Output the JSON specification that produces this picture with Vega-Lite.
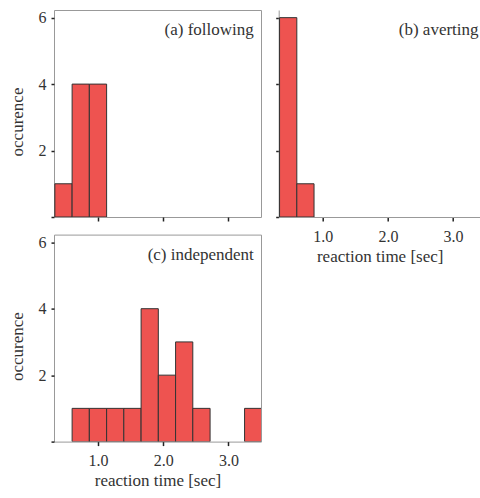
{
  "$schema": "https://vega.github.io/schema/vega-lite/v6.json",
  "padding": {"left": 7, "top": 9, "right": 0, "bottom": 5},
  "background": "white",
  "datasets": {
    "hist": [
      {"panel": "a", "bin_start": 0.338, "bin_end": 0.603, "count": 1},
      {"panel": "a", "bin_start": 0.603, "bin_end": 0.867, "count": 4},
      {"panel": "a", "bin_start": 0.867, "bin_end": 1.132, "count": 4},
      {"panel": "b", "bin_start": 0.338, "bin_end": 0.603, "count": 6},
      {"panel": "b", "bin_start": 0.603, "bin_end": 0.867, "count": 1},
      {"panel": "c", "bin_start": 0.603, "bin_end": 0.867, "count": 1},
      {"panel": "c", "bin_start": 0.867, "bin_end": 1.132, "count": 1},
      {"panel": "c", "bin_start": 1.132, "bin_end": 1.396, "count": 1},
      {"panel": "c", "bin_start": 1.396, "bin_end": 1.661, "count": 1},
      {"panel": "c", "bin_start": 1.661, "bin_end": 1.925, "count": 4},
      {"panel": "c", "bin_start": 1.925, "bin_end": 2.19, "count": 2},
      {"panel": "c", "bin_start": 2.19, "bin_end": 2.454, "count": 3},
      {"panel": "c", "bin_start": 2.454, "bin_end": 2.719, "count": 1},
      {"panel": "c", "bin_start": 3.248, "bin_end": 3.512, "count": 1}
    ],
    "labels": [
      {"panel": "a", "label": "(a) following"},
      {"panel": "b", "label": "(b) averting"},
      {"panel": "c", "label": "(c) independent"}
    ]
  },
  "columns": 2,
  "bounds": "flush",
  "spacing": {"row": 17.6, "column": 17.7},
  "concat": [
    {
      "width": 207,
      "height": 207,
      "layer": [
        {
          "data": {"name": "hist"},
          "transform": [{"filter": "datum.panel == 'a'"}],
          "mark": {"type": "rect", "fill": "#ee5350", "stroke": "#333333", "strokeWidth": 1, "clip": true},
          "encoding": {
            "x": {"field": "bin_start", "type": "quantitative",
              "scale": {"domain": [0.325, 3.5], "nice": false, "zero": false},
              "axis": {"values": [1, 2, 3], "labels": false, "title": null, "tickSize": 4, "domain": false}},
            "x2": {"field": "bin_end"},
            "y": {"field": "count", "type": "quantitative",
              "scale": {"domain": [0, 6.23], "nice": false},
              "axis": {"values": [0, 2, 4, 6], "labelExpr": "datum.value == 0 ? '' : datum.label", "title": "occurence", "tickSize": 3, "labelPadding": 5, "titlePadding": 12, "titleY": 111.5, "domain": false,
                "labelFont": "Liberation Serif", "titleFont": "Liberation Serif"}}
          }
        },
        {
          "data": {"name": "labels"},
          "transform": [{"filter": "datum.panel == 'a'"}],
          "mark": {"type": "text", "align": "right", "baseline": "alphabetic", "font": "Liberation Serif", "fontSize": 17, "color": "#333333"},
          "encoding": {"text": {"field": "label"}, "x": {"datum": 3.39}, "y": {"datum": 5.47}}
        }
      ]
    },
    {
      "width": 202,
      "height": 207,
      "view": {"stroke": null},
      "layer": [
        {
          "data": {"name": "hist"},
          "transform": [{"filter": "datum.panel == 'b'"}],
          "mark": {"type": "rect", "fill": "#ee5350", "stroke": "#333333", "strokeWidth": 1, "clip": true},
          "encoding": {
            "x": {"field": "bin_start", "type": "quantitative",
              "scale": {"domain": [0.325, 3.423], "nice": false, "zero": false},
              "axis": {"values": [1, 2, 3], "format": ".1f", "title": "reaction time [sec]", "tickSize": 4, "labelPadding": 7, "titlePadding": 4, "domain": true,
                "labelFont": "Liberation Serif", "titleFont": "Liberation Serif"}},
            "x2": {"field": "bin_end"},
            "y": {"field": "count", "type": "quantitative",
              "scale": {"domain": [0, 6.23], "nice": false},
              "axis": {"values": [0, 2, 4, 6], "labels": false, "title": null, "tickSize": 3, "domain": true}}
          }
        },
        {
          "mark": {"type": "rule", "color": "#999999", "strokeWidth": 1},
          "encoding": {"y": {"datum": 6.23}}
        },
        {
          "data": {"name": "labels"},
          "transform": [{"filter": "datum.panel == 'b'"}],
          "mark": {"type": "text", "align": "right", "baseline": "alphabetic", "font": "Liberation Serif", "fontSize": 17, "color": "#333333"},
          "encoding": {"text": {"field": "label"}, "x": {"datum": 3.39}, "y": {"datum": 5.47}}
        }
      ]
    },
    {
      "width": 207,
      "height": 207,
      "layer": [
        {
          "data": {"name": "hist"},
          "transform": [{"filter": "datum.panel == 'c'"}],
          "mark": {"type": "rect", "fill": "#ee5350", "stroke": "#333333", "strokeWidth": 1, "clip": true},
          "encoding": {
            "x": {"field": "bin_start", "type": "quantitative",
              "scale": {"domain": [0.325, 3.5], "nice": false, "zero": false},
              "axis": {"values": [1, 2, 3], "format": ".1f", "title": "reaction time [sec]", "tickSize": 4, "labelPadding": 7, "titlePadding": 4, "domain": false,
                "labelFont": "Liberation Serif", "titleFont": "Liberation Serif"}},
            "x2": {"field": "bin_end"},
            "y": {"field": "count", "type": "quantitative",
              "scale": {"domain": [0, 6.23], "nice": false},
              "axis": {"values": [0, 2, 4, 6], "labelExpr": "datum.value == 0 ? '' : datum.label", "title": "occurence", "tickSize": 3, "labelPadding": 5, "titlePadding": 12, "titleY": 111.5, "domain": false,
                "labelFont": "Liberation Serif", "titleFont": "Liberation Serif"}}
          }
        },
        {
          "data": {"name": "labels"},
          "transform": [{"filter": "datum.panel == 'c'"}],
          "mark": {"type": "text", "align": "right", "baseline": "alphabetic", "font": "Liberation Serif", "fontSize": 17, "color": "#333333"},
          "encoding": {"text": {"field": "label"}, "x": {"datum": 3.39}, "y": {"datum": 5.47}}
        }
      ]
    }
  ],
  "config": {
    "font": "Liberation Serif",
    "view": {"stroke": "#999999", "strokeWidth": 1},
    "axis": {
      "grid": false,
      "labelFont": "Liberation Serif",
      "labelFontSize": 16,
      "labelColor": "#333333",
      "titleFont": "Liberation Serif",
      "titleFontSize": 17,
      "titleFontWeight": "normal",
      "titleColor": "#333333",
      "tickColor": "#222222",
      "tickWidth": 1.5,
      "domainColor": "#999999"
    }
  }
}
